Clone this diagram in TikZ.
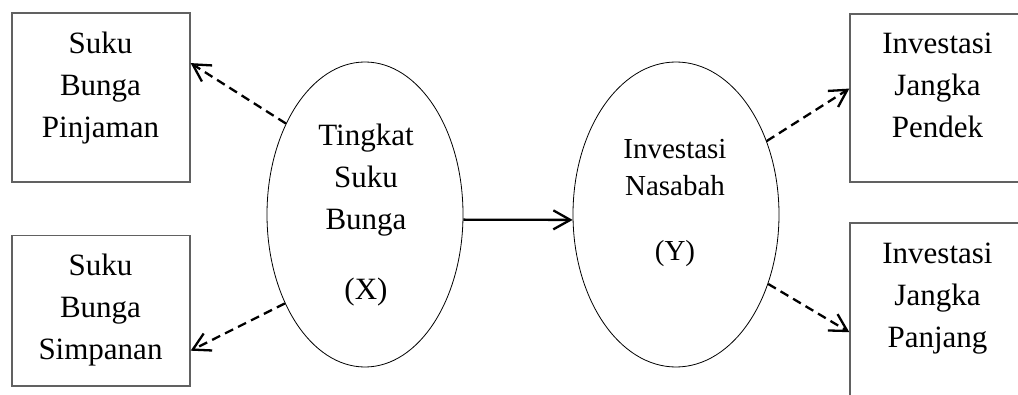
\documentclass[tikz,border=0pt]{standalone}
\usepackage{fontspec}
\setmainfont{Liberation Serif}
\usetikzlibrary{shapes.geometric,arrows.meta}

\tikzset{
  varbox/.style={draw=black!62, line width=1.3pt, minimum width=178pt, inner sep=0pt},
  varell/.style={draw=black, line width=0.8pt, ellipse, inner sep=0pt, minimum height=305pt},
  label31/.style={inner sep=0pt, anchor=north, align=center, font=\fontsize{31}{42}\selectfont},
  label29/.style={inner sep=0pt, anchor=north, align=center, font=\fontsize{29}{37}\selectfont},
  link/.style={line width=2.3pt, -{Straight Barb[length=17pt, width=19pt]}},
  dlink/.style={link, dash pattern=on 9pt off 5.5pt},
}

\begin{document}
\begin{tikzpicture}[x=1pt, y=1pt]
\useasboundingbox (0,0) rectangle (1018,394);
\clip (0,0) rectangle (1018,394);

% indicator boxes
\node[varbox, minimum height=169pt]   (pinjaman) at (101,296.5) {};
\node[varbox, minimum height=150.5pt] (simpanan) at (101,83.25) {};
\node[varbox, minimum height=168pt]   (pendek)   at (939,296) {};
\node[varbox, minimum height=177pt]   (panjang)  at (939,82.5) {};

% latent variables
\node[varell, minimum width=196pt] (x) at (365,179.5) {};
\node[varell, minimum width=206pt] (y) at (676,179.5) {};

% texts
\node[label31] (tpinjaman) at (100.5,370.4) {\strut Suku\\Bunga\\Pinjaman};
\node[label31] (tsimpanan) at (100.5,148.4) {\strut Suku\\Bunga\\Simpanan};
\node[label31] (tpendek)   at (937.5,370.4) {\strut Investasi\\Jangka\\Pendek};
\node[label31] (tpanjang)  at (937.5,160.4) {\strut Investasi\\Jangka\\Panjang};
\node[label31] (tx) at (366,278.4) {\strut Tingkat\\Suku\\Bunga\\[28pt](X)};
\node[label29] (ty) at (675,261.9) {\strut Investasi\\Nasabah\\[28pt](Y)};

% connectors
\draw[dlink] (x.131.9) -- (pinjaman.21.2);
\draw[dlink] (x.228.4) -- (simpanan.-24.9);
\draw[link]  (x.-3.8)  -- (y.183.6);
\draw[dlink] (y.39.9)  -- (pendek.174.2);
\draw[dlink] (y.-37.3) -- (panjang.193);
\end{tikzpicture}
\end{document}
